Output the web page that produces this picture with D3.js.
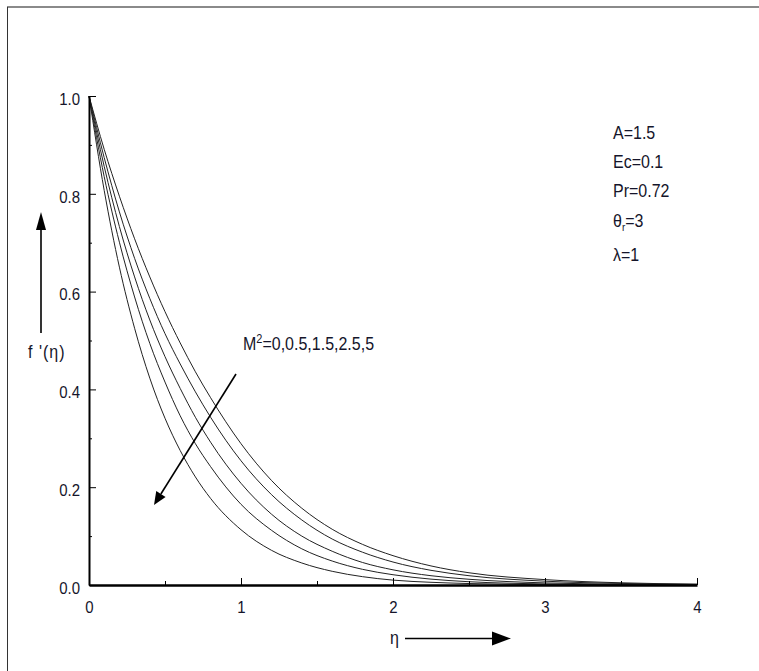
<!DOCTYPE html>
<html>
<head>
<meta charset="utf-8">
<style>
  body { margin: 0; background: #fff; }
  svg { display: block; font-family: "Liberation Sans", Arial, sans-serif; }
  .axis text { font-size: 15px; fill: #15152a; }
  .axis path, .axis line { stroke: #000; }
  .lbl { font-size: 16px; fill: #15152a; white-space: pre; }
</style>
</head>
<body>
<svg width="759" height="671"></svg>
<script src="https://d3js.org/d3.v7.min.js"></script>
<script>
// eta grid and f'(eta), one array per M^2 value
var eta = [0, 0.1, 0.2, 0.3, 0.4, 0.5, 0.6, 0.7, 0.8, 1.0, 1.2, 1.4, 1.6, 1.8, 2.0, 2.25, 2.5, 3.0, 3.5, 4.0];
var fM0  = [1, 0.891, 0.795, 0.708, 0.630, 0.559, 0.495, 0.436, 0.383, 0.289, 0.214, 0.157, 0.114, 0.083, 0.060, 0.039, 0.025, 0.011, 0.0045, 0.0018];
var fM05 = [1, 0.874, 0.763, 0.668, 0.586, 0.514, 0.452, 0.395, 0.343, 0.254, 0.185, 0.133, 0.094, 0.067, 0.047, 0.030, 0.019, 0.0078, 0.0032, 0.0012];
var fM15 = [1, 0.856, 0.733, 0.630, 0.542, 0.467, 0.402, 0.343, 0.292, 0.208, 0.145, 0.100, 0.069, 0.046, 0.031, 0.019, 0.0117, 0.0043, 0.0017, 0.0006];
var fM25 = [1, 0.835, 0.701, 0.589, 0.494, 0.415, 0.346, 0.289, 0.242, 0.165, 0.112, 0.074, 0.049, 0.032, 0.021, 0.012, 0.0067, 0.0022, 0.0007, 0.0002];
var fM5  = [1, 0.807, 0.650, 0.525, 0.423, 0.341, 0.275, 0.221, 0.177, 0.113, 0.071, 0.045, 0.028, 0.017, 0.010, 0.0055, 0.003, 0.0008, 0.0002, 0.0001];
var series = [fM0, fM05, fM15, fM25, fM5];

var yMajor = [0, 0.2, 0.4, 0.6, 0.8, 1.0];
var yMinor = [0.1, 0.3, 0.5, 0.7, 0.9];
var xMajor = [0, 1, 2, 3, 4];
var xMinor = [0.5, 1.5, 2.5, 3.5];

var params = ["A=1.5", "Ec=0.1", "Pr=0.72", "θ_r=3", "λ=1"];

var svg = d3.select("svg");
var stretch = "scale(1,1.15)"; // the original's lettering is a bit taller than Arial

var x = d3.scaleLinear().domain([0, 4]).range([89, 697]);
var y = d3.scaleLinear().domain([0, 1]).range([585, 96]);

// outer frame
svg.append("line").attr("x1", 7).attr("x2", 759).attr("y1", 7).attr("y2", 7)
  .attr("stroke", "#8a8a8a").attr("stroke-width", 2);
svg.append("line").attr("x1", 7.5).attr("x2", 7.5).attr("y1", 7).attr("y2", 671)
  .attr("stroke", "#333").attr("stroke-width", 1);

// curves
var line = d3.line()
  .x(function (d, i) { return x(eta[i]); })
  .y(function (d) { return y(d); })
  .curve(d3.curveMonotoneX);

svg.append("g").selectAll("path")
  .data(series)
  .enter().append("path")
  .attr("d", line)
  .attr("fill", "none")
  .attr("stroke", "#222")
  .attr("stroke-width", 1);

// y axis
var yAxis = svg.append("g").attr("class", "axis").attr("transform", "translate(89,0)")
  .call(d3.axisLeft(y).tickValues(yMajor).tickFormat(d3.format(".1f"))
    .tickSizeInner(-7).tickSizeOuter(0).tickPadding(9));
yAxis.select(".domain").attr("stroke-width", 2);
yAxis.selectAll("text").attr("dy", "0.48em").attr("transform", stretch);
svg.append("g").attr("class", "axis").attr("transform", "translate(89,0)")
  .call(d3.axisLeft(y).tickValues(yMinor).tickFormat("").tickSizeInner(-3).tickSizeOuter(0))
  .select(".domain").remove();

// x axis
var xAxis = svg.append("g").attr("class", "axis").attr("transform", "translate(0,585)")
  .call(d3.axisBottom(x).tickValues(xMajor).tickFormat(d3.format("d"))
    .tickSizeInner(-7).tickSizeOuter(0).tickPadding(14));
xAxis.select(".domain").attr("stroke-width", 2.5);
xAxis.selectAll("text").attr("transform", stretch);
svg.append("g").attr("class", "axis").attr("transform", "translate(0,585)")
  .call(d3.axisBottom(x).tickValues(xMinor).tickFormat("").tickSizeInner(-4).tickSizeOuter(0))
  .select(".domain").remove();

// arrows
function arrow(x1, y1, x2, y2, len, half) {
  var a = Math.atan2(y2 - y1, x2 - x1);
  var bx = x2 - len * Math.cos(a), by = y2 - len * Math.sin(a);
  svg.append("line").attr("x1", x1).attr("y1", y1).attr("x2", bx).attr("y2", by)
    .attr("stroke", "#000").attr("stroke-width", 1.6);
  var px = -Math.sin(a) * half, py = Math.cos(a) * half;
  svg.append("path")
    .attr("d", "M" + x2 + "," + y2 + "L" + (bx + px) + "," + (by + py) + "L" + (bx - px) + "," + (by - py) + "Z")
    .attr("fill", "#000");
}
arrow(41, 333, 41, 212, 18, 5);
arrow(405, 638.5, 511, 638.5, 19, 7);
arrow(236, 374, 154, 505, 13, 5.5);

function label(px, py) {
  return svg.append("text").attr("class", "lbl")
    .attr("transform", "translate(" + px + "," + py + ")" + stretch);
}

// axis titles
label(28, 358).style("letter-spacing", "1px").text("f '(η)");
label(390, 644).text("η");

// M^2 annotation
var m = label(243, 350);
m.append("tspan").text("M");
m.append("tspan").attr("dy", -6).style("font-size", "11px").text("2");
m.append("tspan").attr("dy", 6).text("=0,0.5,1.5,2.5,5");

// parameter list
var paramY = [139, 168, 197, 226.5, 261];
params.forEach(function (p, i) {
  var t = label(613, paramY[i]);
  if (p.indexOf("_") > 0) {
    var parts = p.split("_");
    t.append("tspan").text(parts[0]);
    t.append("tspan").attr("dy", 4).style("font-size", "10px").text(parts[1].charAt(0));
    t.append("tspan").attr("dy", -4).text(parts[1].slice(1));
  } else {
    t.text(p);
  }
});
</script>
</body>
</html>
